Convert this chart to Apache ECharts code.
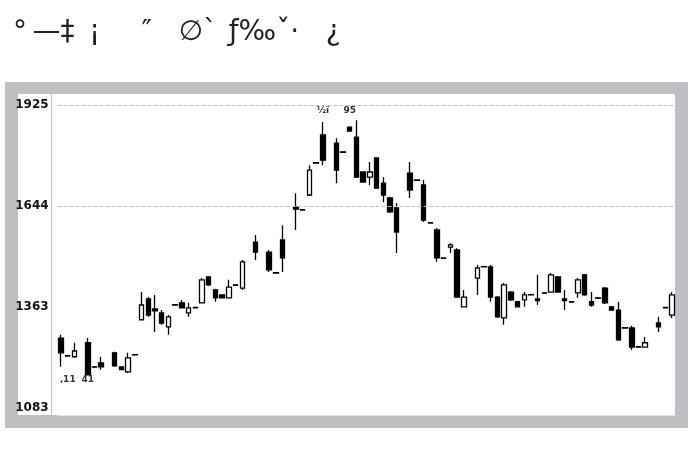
<!DOCTYPE html>
<html><head><meta charset="utf-8">
<script src="https://cdn.jsdelivr.net/npm/echarts@6/dist/echarts.min.js"></script>
<style>html,body{margin:0;padding:0;background:#fff}#c{width:700px;height:451px}</style>
</head><body><div id="c"></div>
<script>
const titleText = '°\u2009—‡ \u2009¡    \u2009″   ∅` \u200aƒ‰ˇ·   ¿';
const tickValues = [1083, 1363, 1644, 1925];
const tickLabels = ['1083', '1363', '1644', '1925'];
const gridValues = [1925, 1644];
const opens  = [1277,1228,1225,null,1264,1197,1208,null,1236,1197,1183,1231,1328,1386,1358,1347,1308,1370,1375,1347,1362,1375,1447,1411,1397,1389,1425,1416,null,1544,null,1516,1459,1550,null,1641,1634,1675,1765,1842,null,1819,1795,1864,1836,1739,1725,1778,1708,1667,1639,null,1736,1717,1703,1598,1578,1500,1530,1522,1364,null,1444,1476,1475,1391,1333,1405,1378,1383,1398,1386,1403,1405,1447,1386,1378,1403,1453,1378,1389,1416,1364,1355,1306,1305,1253,1252,null,1319,1362,1341];
const closes = [1236,1227,1241,null,1175,1196,1197,null,1200,1189,1222,1230,1369,1341,1353,1319,1336,1369,1361,1361,1361,1439,1425,1389,1389,1419,1424,1489,null,1516,null,1467,1458,1500,null,1636,1633,1744,1764,1772,null,1744,1794,1853,1725,1711,1739,1694,1675,1628,1572,null,1689,1716,1605,1597,1500,1499,1536,1391,1391,null,1472,1475,1391,1336,1425,1383,1364,1397,1397,1381,1402,1453,1405,1381,1377,1439,1397,1369,1388,1375,1355,1272,1305,1252,1252,1264,null,1308,1361,1397];
const lows   = [1197,1225,1222,null,1174,1195,1189,null,1197,1188,1180,1228,1327,1336,1294,1314,1286,1367,1360,1336,1359,1374,1422,1378,1387,1388,1422,1411,null,1494,null,1461,1456,1461,null,1578,1631,1672,1762,1758,null,1708,1792,1852,1722,1709,1703,1692,1655,1625,1514,null,1667,1714,1600,1595,1489,1497,1514,1389,1362,null,1397,1473,1378,1333,1314,1380,1362,1364,1395,1369,1400,1404,1403,1355,1375,1389,1395,1364,1386,1372,1353,1269,1303,1244,1250,1251,null,1294,1359,1333];
const highs  = [1286,1230,1264,null,1278,1199,1225,null,1239,1198,1236,1232,1405,1391,1397,1355,1341,1372,1383,1375,1363,1444,1450,1414,1399,1439,1427,1494,null,1564,null,1522,1461,1591,null,1680,1636,1758,1767,1878,null,1833,1797,1866,1883,1741,1767,1780,1725,1670,1653,null,1767,1719,1717,1600,1583,1502,1541,1527,1411,null,1480,1478,1480,1394,1430,1408,1380,1405,1400,1453,1405,1458,1450,1411,1380,1444,1455,1405,1391,1419,1366,1378,1308,1311,1255,1280,null,1336,1363,1405];
const categories = opens.map((_, i) => 'D' + (i + 1));
const annoLabels = ['‚11', '41', '½ï', '95'];
const annoIdx = [1, 4, 39, 43];
const annoVals = [1161, 1161, 1911, 1911];

const data = opens.map((o, i) => o == null ? '-' : [o, closes[i], lows[i], highs[i]]);

const chart = echarts.init(document.getElementById('c'), null, {renderer: 'canvas'});
chart.setOption({
  animation: false,
  title: {
    text: titleText, left: 8, top: 14,
    textStyle: {fontFamily: 'DejaVu Sans', fontSize: 28, fontWeight: 'normal', color: '#222'}
  },
  graphic: [
    {type: 'rect', z: -10, shape: {x: 5, y: 82, width: 683, height: 346}, style: {fill: '#bdbfc2'}},
    {type: 'rect', z: -9, shape: {x: 18, y: 94, width: 657, height: 321}, style: {fill: '#ffffff'}}
  ],
  grid: {left: 57.6, right: 24.6, top: 94, bottom: 36},
  xAxis: {
    type: 'category', data: categories, boundaryGap: true,
    axisLine: {show: true, lineStyle: {color: '#e2e2e2'}},
    axisTick: {show: false}, axisLabel: {show: false}, splitLine: {show: false}
  },
  yAxis: {
    type: 'value', min: 1063, max: 1956, offset: 6,
    axisLine: {show: true, lineStyle: {color: '#c4c4c4'}},
    axisTick: {show: false},
    splitLine: {show: false},
    axisLabel: {
      customValues: tickValues,
      formatter: v => tickLabels[tickValues.indexOf(v)] ?? '',
      fontFamily: 'DejaVu Sans', fontWeight: 'bold', fontSize: 12, color: '#111', margin: 3
    }
  },
  series: [{
    type: 'candlestick',
    data: data,
    barWidth: 5,
    itemStyle: {color: '#ffffff', color0: '#000000', borderColor: '#000000', borderColor0: '#000000', borderWidth: 1.3},
    markLine: {
      silent: true, symbol: 'none', label: {show: false},
      lineStyle: {type: 'dashed', color: '#c0c0c0', width: 1},
      data: gridValues.map(v => ({yAxis: v}))
    },
    markPoint: {
      silent: true, symbol: 'circle', symbolSize: 0,
      label: {show: true, position: 'inside', fontFamily: 'DejaVu Sans', fontSize: 9, fontWeight: 'bold', color: '#333'},
      data: annoLabels.map((t, i) => ({coord: [categories[annoIdx[i]], annoVals[i]], value: t, label: {formatter: t}}))
    }
  }]
});
</script></body></html>
